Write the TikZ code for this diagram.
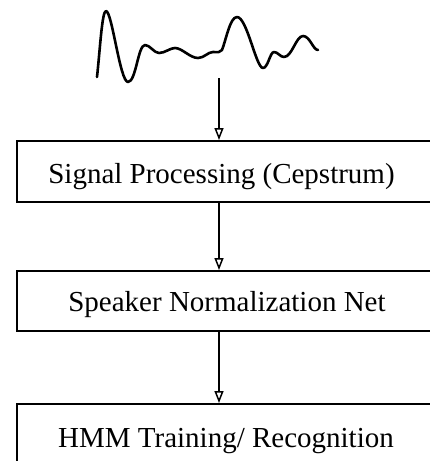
\documentclass[tikz,border=0pt]{standalone}
\usepackage{fontspec}
\setmainfont{Liberation Serif}
\usetikzlibrary{arrows.meta}
\begin{document}
\begin{tikzpicture}[x=1pt,y=-1pt,
  box/.style={draw,line width=2pt,rectangle,inner sep=0pt},
  lbl/.style={inner sep=0pt,anchor=base,font=\fontsize{29}{29}\selectfont},
  flow/.style={line width=1.8pt,-{Triangle[open,length=12pt,width=9pt,line width=1.5pt]}},
  wave/.style={line width=2.6pt,line join=round,line cap=round}]
\useasboundingbox (0,0) rectangle (430,461);
\clip (0,0) rectangle (430,461);
% signal waveform
\draw[wave] (97,77) .. controls (100,50) and (102,11) .. (106,11)
  .. controls (112,11) and (120,82) .. (128,82)
  .. controls (136,82) and (138,45) .. (145,45)
  .. controls (150,45) and (154,53) .. (159,53)
  .. controls (165,53) and (170,48) .. (175,48)
  .. controls (182,48) and (190,58) .. (198,58)
  .. controls (204,58) and (208,52) .. (213,52)
  .. controls (218,52) and (220,53) .. (222,50)
  .. controls (226,40) and (230,17) .. (237,17)
  .. controls (247,17) and (256,68) .. (263,68)
  .. controls (268,68) and (270,52) .. (274,52)
  .. controls (278,52) and (280,57) .. (284,57)
  .. controls (292,57) and (296,36) .. (303,36)
  .. controls (310,36) and (313,50) .. (318,50);
\coordinate (src) at (219,78);
% boxes
\node[box,minimum width=440pt,minimum height=61pt] (b1) at (237,171.5) {};
\node[box,minimum width=440pt,minimum height=60pt] (b2) at (237,301) {};
\node[box,minimum width=440pt,minimum height=100pt] (b3) at (237,454) {};
% labels
\node[lbl] (t1) at (221.5,183) {Signal Processing (Cepstrum)};
\node[lbl] (t2) at (227,311) {Speaker Normalization Net};
\node[lbl] (t3) at (226,447) {HMM Training/ Recognition};
% connectors
\draw[flow] (src) -- (src |- b1.north);
\draw[flow] (src |- b1.south) -- (src |- b2.north);
\draw[flow] (src |- b2.south) -- (src |- b3.north);
\end{tikzpicture}
\end{document}
